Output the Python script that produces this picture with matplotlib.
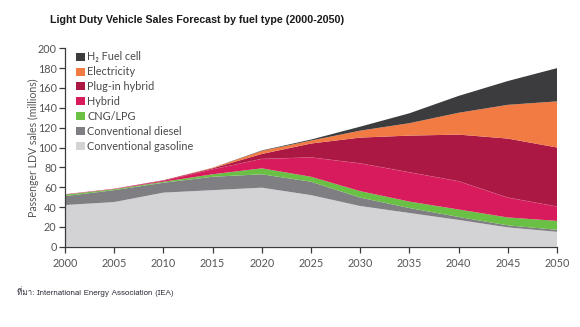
import matplotlib
matplotlib.use("Agg")
import matplotlib.pyplot as plt
from matplotlib.patches import Patch
from matplotlib import font_manager
from matplotlib.ft2font import FT2Font

years = [2000, 2005, 2010, 2015, 2020, 2025, 2030, 2035, 2040, 2045, 2050]

gasoline    = [42.0, 45.0, 54.5, 57.0, 59.5, 52.0, 41.0, 34.0, 27.0, 19.5, 15.0]
diesel      = [9.0, 12.0, 10.0, 13.5, 13.5, 13.5, 8.5, 5.0, 3.0, 2.0, 2.0]
cng_lpg     = [1.5, 1.0, 1.0, 2.5, 6.0, 5.0, 6.5, 6.5, 7.5, 8.0, 9.0]
hybrid      = [0.2, 0.3, 1.0, 5.0, 9.5, 19.5, 28.0, 29.5, 28.5, 20.0, 14.5]
plugin      = [0.1, 0.1, 0.5, 1.0, 5.0, 14.0, 26.0, 37.0, 47.0, 59.5, 59.5]
electricity = [0.0, 0.0, 0.0, 0.5, 3.0, 3.0, 7.0, 12.5, 22.0, 34.0, 46.5]
fuel_cell   = [0.0, 0.0, 0.0, 0.1, 0.5, 1.0, 4.0, 10.0, 17.0, 24.0, 33.5]

series_labels = ["Conventional gasoline", "Conventional diesel", "CNG/LPG", "Hybrid",
                 "Plug-in hybrid", "Electricity", "H\u2082 Fuel cell"]
series_colors = ["#d3d3d5", "#7f7f83", "#6abf45", "#d81b5c", "#ab1844", "#f27a43", "#3c3c3e"]

y_ticks = list(range(0, 201, 20))
x_ticks = list(range(2000, 2051, 5))

title = "Light Duty Vehicle Sales Forecast by fuel type (2000-2050)"
y_label = "Passenger LDV sales (millions)"
source = "\u0e17\u0e35\u0e48\u0e21\u0e32: International Energy Association (IEA)"


def family_with(ch):
    for f in font_manager.fontManager.ttflist:
        try:
            if FT2Font(f.fname).get_char_index(ord(ch)):
                return f.name
        except Exception:
            continue
    return None


thai = family_with("\u0e17")
source_family = ([thai] if thai else []) + ["Liberation Sans", "DejaVu Sans"]

plt.rcParams["font.family"] = ["Lato", "DejaVu Sans"]

fig = plt.figure(figsize=(5.8, 3.27), dpi=100)
ax = fig.add_axes([65 / 580, 1 - 246.7 / 327, (557 - 65) / 580, (246.7 - 48.3) / 327])

ax.stackplot(years, gasoline, diesel, cng_lpg, hybrid, plugin, electricity, fuel_cell,
             colors=series_colors, linewidth=0)

# faint dotted seam between hybrid and plug-in layers
hyb_top = [a + b + c + d for a, b, c, d in zip(gasoline, diesel, cng_lpg, hybrid)]
ax.plot(years, hyb_top, color="#e86a90", lw=0.5, ls=(0, (1.5, 1.5)), alpha=0.7)

ax.set_xlim(2000, 2050)
ax.set_ylim(0, 200)
ax.set_xticks(x_ticks)
ax.set_yticks(y_ticks)

grey = "#555558"
for s in ["top", "right"]:
    ax.spines[s].set_visible(False)
for s in ["left", "bottom"]:
    ax.spines[s].set_color("#3a3a3a")
    ax.spines[s].set_linewidth(0.9)
ax.tick_params(axis="both", direction="out", length=4, width=0.9, color="#3a3a3a",
               labelsize=7.8, labelcolor=grey, pad=2)
ax.tick_params(axis="x", pad=4)

ax.set_ylabel(y_label, fontsize=7.6, color=grey, labelpad=-1)

handles = [Patch(facecolor=c, edgecolor="none") for c in series_colors][::-1]
leg = ax.legend(handles, series_labels[::-1], loc="upper left",
                bbox_to_anchor=(0.010, 1.017), frameon=False, fontsize=7.8,
                handlelength=0.75, handleheight=0.75, handletextpad=0.25,
                labelspacing=0.36, borderaxespad=0.2)
for t in leg.get_texts():
    t.set_color("#4a4a4d")

fig.text(50 / 580, 1 - 20 / 327, title, fontsize=7.65, fontweight="bold",
         family=["Liberation Sans", "DejaVu Sans"], color="#1a1a1a", va="center", ha="left")

fig.text(17 / 580, 1 - 292 / 327, source, fontsize=5.8, family=source_family,
         color="#333340", va="center", ha="left")

fig.savefig("out.png", dpi=100)
